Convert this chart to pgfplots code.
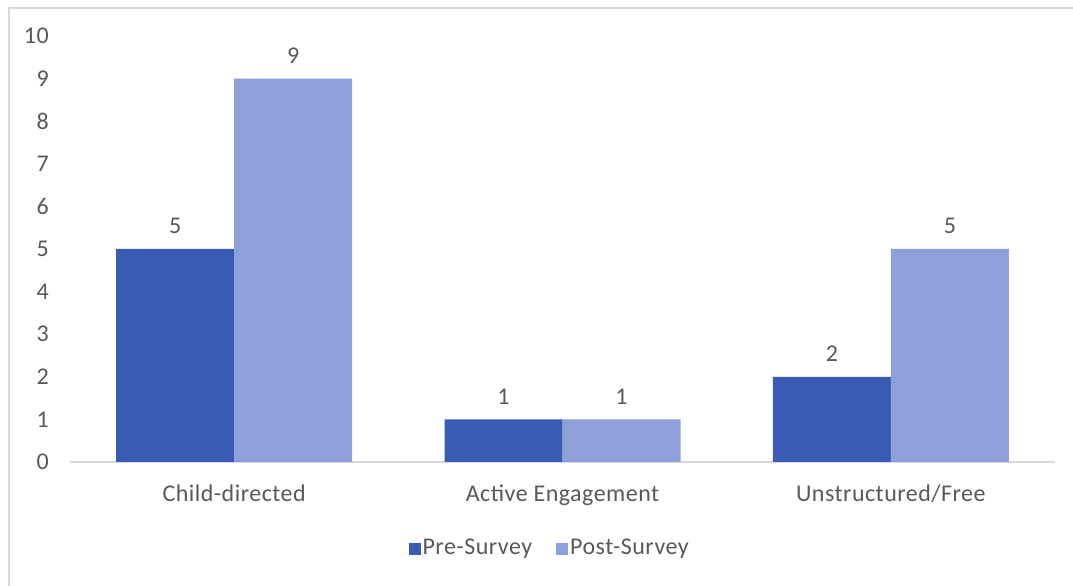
\documentclass[border=0pt]{standalone}
\usepackage{pgfplots}
\pgfplotsset{compat=1.18}
\usepackage{fontspec}
\setmainfont{Carlito}[LetterSpace=2]
\definecolor{pre}{RGB}{58,91,180}
\definecolor{post}{RGB}{142,160,217}
\definecolor{txt}{RGB}{89,89,89}
\definecolor{lgray}{RGB}{217,217,217}
\newcommand{\cf}{\fontsize{24pt}{28pt}\selectfont}
\begin{document}
\cf
\begin{tikzpicture}
\path[use as bounding box] (0pt,0pt) rectangle (1073pt,586pt);
\fill[white] (0pt,0pt) rectangle (1073pt,586pt);
\draw[lgray, line width=2pt] (1080pt,578pt) -- (9pt,578pt) -- (9pt,-5pt);
\begin{axis}[
  at={(70pt,124pt)}, anchor=south west,
  scale only axis, width=985pt, height=426pt,
  xmin=-0.5, xmax=2.5, ymin=0, ymax=10,
  ytick={0,1,...,10}, xtick={0,1,2},
  xticklabels={Child-directed, Active Engagement, Unstructured/Free},
  axis x line=bottom, axis y line=left,
  x axis line style={draw=lgray, line width=1.5pt, -},
  y axis line style={draw=none},
  major tick length=0pt,
  tick label style={text=txt, font=\cf},
  /pgf/number format/assume math mode=true,
  yticklabel style={anchor=east, xshift=-13pt},
  xticklabel style={yshift=-15pt},
  ybar=0pt, bar width=118pt,
  nodes near coords,
  every node near coord/.append style={text=txt, font=\cf, yshift=7pt},
  legend style={at={(0.487,-0.204)}, anchor=center, draw=none, legend columns=2,
    font=\cf, text=txt,
    /tikz/every even column/.append style={column sep=22pt}},
  legend image code/.code={\fill[#1] (0pt,-6pt) rectangle (12pt,6pt);},
  clip=false,
]
\addplot[fill=pre, draw=none] coordinates {(0,5) (1,1) (2,2)};
\addplot[fill=post, draw=none] coordinates {(0,9) (1,1) (2,5)};
\legend{Pre-Survey, Post-Survey}
\end{axis}
\end{tikzpicture}
\end{document}
